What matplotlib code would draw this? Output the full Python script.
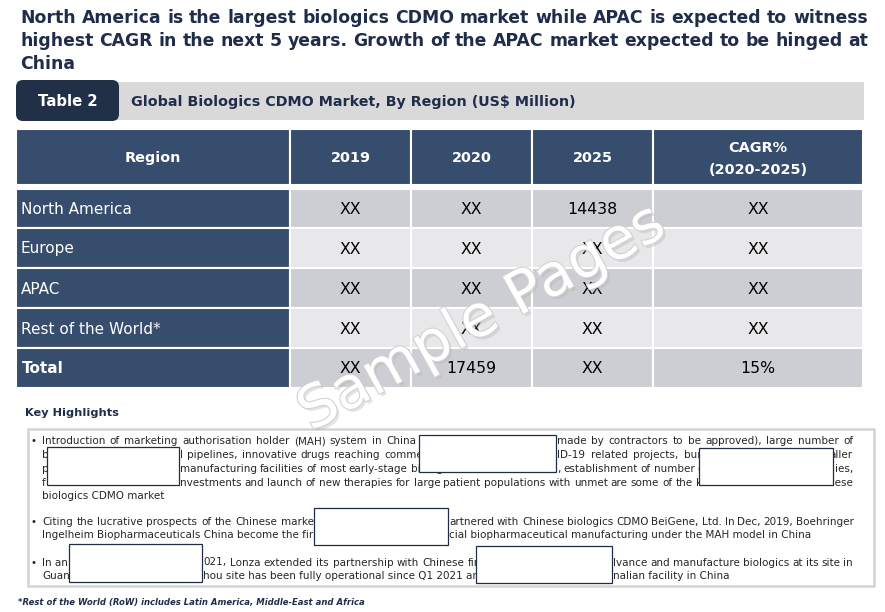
import matplotlib
matplotlib.use("Agg")
import matplotlib.pyplot as plt
import matplotlib.patheffects as pe
from matplotlib.patches import Rectangle, FancyBboxPatch

# ---- data ----
title_lines = [
    "North America is the largest biologics CDMO market while APAC is expected to witness",
    "highest CAGR in the next 5 years. Growth of the APAC market expected to be hinged at",
    "China",
]
table_tag = "Table 2"
table_title = "Global Biologics CDMO Market, By Region (US$ Million)"
columns = ["Region", "2019", "2020", "2025", "CAGR%\n(2020-2025)"]
regions = ["North America", "Europe", "APAC", "Rest of the World*", "Total"]
val_2019 = ["XX", "XX", "XX", "XX", "XX"]
val_2020 = ["XX", "XX", "XX", "XX", "17459"]
val_2025 = ["14438", "XX", "XX", "XX", "XX"]
val_cagr = ["XX", "XX", "XX", "XX", "15%"]
highlights_title = "Key Highlights"
footnote = "*Rest of the World (RoW) includes Latin America, Middle-East and Africa"

# visible pieces of the (partly redacted) highlight text: (text, left, right, line)
fragments = [
    ("Introduction of marketing authorisation holder (MAH) system in China", 42, 416, 0),
    ("made by contractors to be approved), large number of", 557, 853, 0),
    ("b", 42, None, 1),
    ("l pipelines, innovative drugs reaching commercial", 180, 445, 1),
    ("ID-19 related projects, bur", 557, 702, 1),
    ("aller", None, 853, 1),
    ("p", 42, None, 2),
    ("manufacturing facilities of most early-stage biologics", 180, 455, 2),
    (", establishment of number o", 557, 702, 2),
    ("ies,", None, 853, 2),
    ("f", 42, None, 3),
    ("nvestments and launch of new therapies for large patient populations with unmet are some of the k",
     180, 702, 3),
    ("nese", None, 853, 3),
    ("biologics CDMO market", 42, None, 4),
    ("Citing the lucrative prospects of the Chinese market", 42, 318, 5),
    ("artnered with Chinese biologics CDMO BeiGene, Ltd. In Dec, 2019, Boehringer", 449, 853, 5),
    ("Ingelheim Biopharmaceuticals China become the first", 42, None, 6),
    ("cial biopharmaceutical manufacturing under the MAH model in China", 449, None, 6),
    ("In an", 42, None, 7),
    ("021, Lonza extended its partnership with Chinese fir", 203, 479, 7),
    ("lvance and manufacture biologics at its site in", 613, 853, 7),
    ("Guan", 42, None, 8),
    ("hou site has been fully operational since Q1 2021 and i", 203, None, 8),
    ("nalian facility in China", 613, None, 8),
]
line_y = [441, 455, 468.5, 482, 495.5, 521.5, 535, 562, 575.5]
bullet_lines = [0, 5, 7]
redactions = [(419, 435, 137, 37), (47, 447, 132, 38), (699, 448, 134, 37),
              (314, 508, 134, 37), (69, 544, 133, 38), (476, 546, 136, 37)]

# ---- style ----
NAVY = "#1f2d4a"
DARK = "#212f47"
HEAD = "#374d6d"
CELL = ["#cdced3", "#e8e8ea"]
BODY = "#262626"
plt.rcParams["font.family"] = "DejaVu Sans"

fig = plt.figure(figsize=(8.85, 6.12), dpi=100)
ax = fig.add_axes([0, 0, 1, 1])
ax.set_xlim(0, 885)
ax.set_ylim(612, 0)
ax.axis("off")
renderer = fig.canvas.get_renderer()


def text_w(s, size, weight="normal", style="normal"):
    t = ax.text(0, 0, s, fontsize=size, fontweight=weight, fontstyle=style)
    w = t.get_window_extent(renderer).width
    t.remove()
    return w


def fit_size(s, width, weight="normal", style="normal"):
    return 10 * width / text_w(s, 10, weight, style)


def justify(s, x0, x1, yb, size, weight="normal", color="black", z=3):
    words = s.split(" ")
    widths = [text_w(w, size, weight) for w in words]
    space = text_w("a a", size, weight) - text_w("aa", size, weight)
    gap = 0 if len(words) == 1 else (x1 - x0 - sum(widths)) / (len(words) - 1)
    gap = max(gap, 0.9 * space)
    x = x0
    for w, wd in zip(words, widths):
        ax.text(x, yb, w, fontsize=size, fontweight=weight, color=color,
                va="baseline", ha="left", zorder=z)
        x += wd + gap


# title
fs_title = 0.5 * (fit_size(title_lines[0], 848, "bold") + fit_size(title_lines[1], 848, "bold"))
for i, line in enumerate(title_lines):
    yb = 23 + 23 * i
    if i < 2:
        justify(line, 20, 868, yb, fs_title, "bold", NAVY)
    else:
        ax.text(20, yb, line, fontsize=fs_title, fontweight="bold", color=NAVY, va="baseline")

# table banner
ax.add_patch(Rectangle((100, 82), 764, 38, facecolor="#d9d9d9", edgecolor="none"))
ax.add_patch(FancyBboxPatch((16, 80), 103, 41, boxstyle="round,pad=0,rounding_size=7",
                            facecolor=DARK, edgecolor="none"))
ax.text(67.5, 106, table_tag, fontsize=fit_size(table_tag, 60, "bold"), fontweight="bold",
        color="white", ha="center", va="baseline")
ax.text(131, 106, table_title, fontsize=fit_size(table_title, 441, "bold"), fontweight="bold",
        color=NAVY, ha="left", va="baseline")

# table
col_edges = [16, 290, 411, 532, 653, 863]
row_edges = [188.5, 228, 268, 308, 348, 387.5]
fs_head = fit_size("Region", 56, "bold")
for j, name in enumerate(columns):
    x0, x1 = col_edges[j], col_edges[j + 1]
    ax.add_patch(Rectangle((x0, 129), x1 - x0, 56, facecolor=HEAD, edgecolor="white", lw=1.5))
    parts = name.split("\n")
    for k, p in enumerate(parts):
        yb = 162 if len(parts) == 1 else 152 + 22 * k
        ax.text((x0 + x1) / 2, yb, p, fontsize=fs_head, fontweight="bold", color="white",
                ha="center", va="baseline")

fs_lab = fit_size("North America", 111)
fs_val = fit_size("14438", 50)
columns_vals = [val_2019, val_2020, val_2025, val_cagr]
for i, reg in enumerate(regions):
    y0, y1 = row_edges[i], row_edges[i + 1]
    yb = (y0 + y1) / 2 + 5.5
    ax.add_patch(Rectangle((col_edges[0], y0), col_edges[1] - col_edges[0], y1 - y0,
                           facecolor=HEAD, edgecolor="white", lw=1.5))
    bold = reg == "Total"
    ax.text(22 if bold else 21, yb, reg, fontsize=fs_lab, color="white",
            fontweight="bold" if bold else "normal", va="baseline")
    for j, vals in enumerate(columns_vals):
        x0, x1 = col_edges[j + 1], col_edges[j + 2]
        ax.add_patch(Rectangle((x0, y0), x1 - x0, y1 - y0, facecolor=CELL[i % 2],
                               edgecolor="white", lw=1.5))
        ax.text((x0 + x1) / 2, yb, vals[i], fontsize=fs_val, color="black",
                ha="center", va="baseline")

# key highlights
ax.text(25, 415.5, highlights_title, fontsize=fit_size(highlights_title, 93, "bold"),
        fontweight="bold", color=NAVY, va="baseline")
ax.add_patch(Rectangle((27.5, 429), 846, 157, facecolor="none", edgecolor="#d4d4d4", lw=1.8))

fs_body = fit_size("Ingelheim Biopharmaceuticals China become the first", 272) * 1.03
for s, x0, x1, li in fragments:
    yb = line_y[li] + 3.5
    if x0 is not None and x1 is not None:
        justify(s, x0, x1, yb, fs_body, color=BODY)
    elif x0 is not None:
        ax.text(x0, yb, s, fontsize=fs_body, color=BODY, va="baseline", ha="left")
    else:
        ax.text(x1, yb, s, fontsize=fs_body, color=BODY, va="baseline", ha="right")
for li in bullet_lines:
    ax.text(31, line_y[li] + 3.5, "\u2022", fontsize=fs_body, color=BODY, va="baseline")

for x, y, w, h in redactions:
    ax.add_patch(Rectangle((x, y), w, h, facecolor="white", edgecolor=NAVY, lw=0.9, zorder=5))

ax.text(18, 605.5, footnote, fontsize=fit_size(footnote, 345, "bold", "italic"),
        fontweight="bold", fontstyle="italic", color=NAVY, va="baseline")

# watermark
ax.text(482, 318, "Sample Pages", fontsize=42, color="white", rotation=29,
        ha="center", va="center", zorder=8,
        path_effects=[pe.SimplePatchShadow(offset=(2, -2), shadow_rgbFace="#b0b0b0", alpha=0.35),
                      pe.Stroke(linewidth=1.6, foreground="#d2d2d2"), pe.Normal()])

fig.savefig("out.png", dpi=100)
